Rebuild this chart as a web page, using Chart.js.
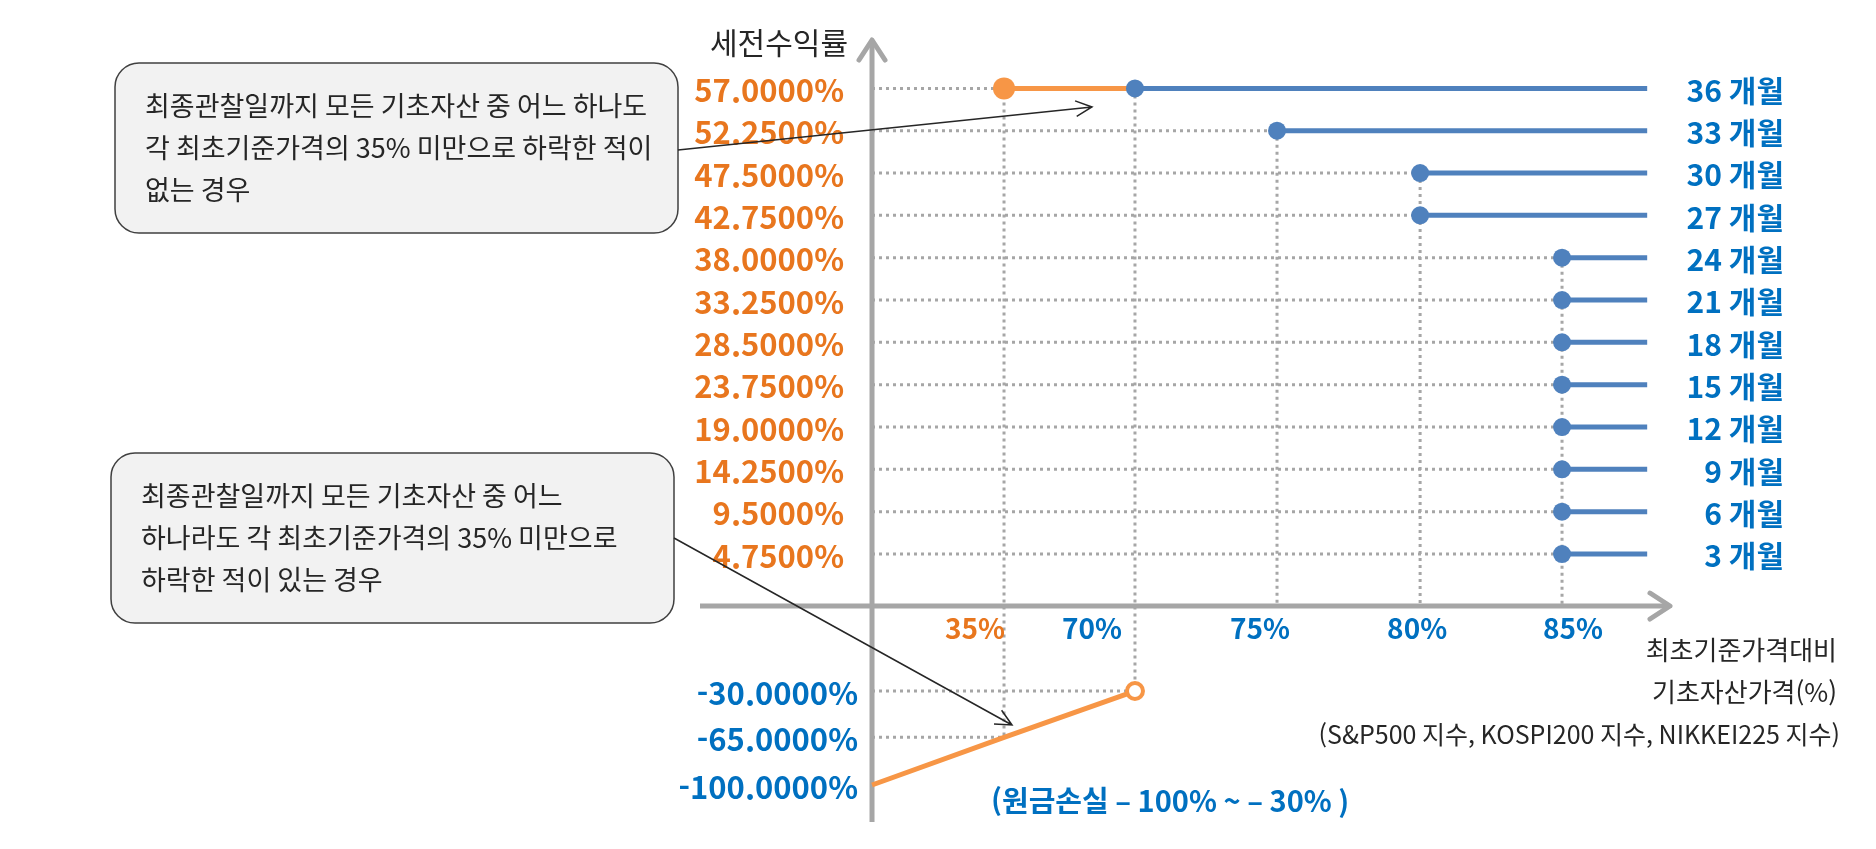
<!DOCTYPE html>
<html lang="ko">
<head>
<meta charset="utf-8">
<title>세전수익률 구조</title>
<script src="https://cdn.jsdelivr.net/npm/chart.js@4.4.1/dist/chart.umd.min.js"></script>
<style>
  html, body { margin: 0; padding: 0; background: #fff; }
</style>
</head>
<body>
<canvas id="payoffChart" width="1876" height="849"></canvas>
<script>
// 관찰 시점 (36개월이 만기)
const months = ['36 개월', '33 개월', '30 개월', '27 개월', '24 개월', '21 개월', '18 개월', '15 개월', '12 개월', '9 개월', '6 개월', '3 개월'];
// 세전수익률 (%)
const couponRates = [57, 52.25, 47.5, 42.75, 38, 33.25, 28.5, 23.75, 19, 14.25, 9.5, 4.75];
// 상환 조건 : 최초기준가격 대비 기초자산가격 (%)
const redemptionBarriers = [70, 75, 80, 80, 85, 85, 85, 85, 85, 85, 85, 85];
// 낙인 배리어 (%)
const kiBarrier = 35;
// 원금손실 구간
const lossPrices = [0, 35, 70];
const lossRates = [-100, -65, -30];
// 축 눈금
const xTickValues = [35, 70, 75, 80, 85];
const yTickValues = couponRates.concat(lossRates.slice().reverse());
// 수익 구간 선이 끝나는 가격
const priceEnd = 88;

const BLUE = '#4f81bd';
const ORANGE = '#f79646';
const TXT_BLUE = '#0070c0';
const TXT_ORANGE = '#e8761e';
const GREY = '#a6a6a6';
const INK = '#262626';
const FONT = '"Noto Sans CJK KR", "Noto Sans", sans-serif';

// 눈금 간격이 고르지 않은 그림이라 구간별로 선형 보간하는 축을 만든다
class StepScale extends Chart.Scale {
    static id = 'step';
    static defaults = {};

    parse(raw) {
        return raw === null || raw === undefined ? null : +raw;
    }
    _toSlot(v) {
        const vs = this.options.stopValues, ss = this.options.stopSlots;
        let i = 0;
        while (i < vs.length - 2 && v > vs[i + 1]) i++;
        return ss[i] + (v - vs[i]) * (ss[i + 1] - ss[i]) / (vs[i + 1] - vs[i]);
    }
    _toValue(s) {
        const vs = this.options.stopValues, ss = this.options.stopSlots;
        let i = 0;
        while (i < ss.length - 2 && s > ss[i + 1]) i++;
        return vs[i] + (s - ss[i]) * (vs[i + 1] - vs[i]) / (ss[i + 1] - ss[i]);
    }
    determineDataLimits() {
        const r = this.options.slotRange;
        this.min = this._toValue(r[0]);
        this.max = this._toValue(r[1]);
    }
    buildTicks() {
        return this.options.tickValues.map(v => ({ value: v }));
    }
    getLabelForValue(v) {
        return v + '%';
    }
    getPixelForValue(v) {
        const r = this.options.slotRange;
        return this.getPixelForDecimal((this._toSlot(v) - r[0]) / (r[1] - r[0]));
    }
    getPixelForTick(i) {
        return this.getPixelForValue(this.ticks[i].value);
    }
    getValueForPixel(p) {
        const r = this.options.slotRange;
        return this._toValue(r[0] + this.getDecimalForPixel(p) * (r[1] - r[0]));
    }
}
Chart.register(StepScale);

// ---------------------- //
// 데이터셋 만들기

const datasets = [];

// 조기상환 / 만기상환 구간
months.forEach((m, i) => {
    datasets.push({
        label: m,
        data: [{ x: redemptionBarriers[i], y: couponRates[i] }, { x: priceEnd, y: couponRates[i] }],
        borderColor: BLUE,
        backgroundColor: BLUE,
        borderWidth: 5,
        pointRadius: [9, 0],
        pointBackgroundColor: BLUE,
        pointBorderWidth: 0,
        order: 1
    });
});

// 만기: 낙인 배리어 아래로 내려간 적이 없는 경우
datasets.push({
    label: 'no knock-in',
    data: [{ x: kiBarrier, y: couponRates[0] }, { x: redemptionBarriers[0], y: couponRates[0] }],
    borderColor: ORANGE,
    borderWidth: 5,
    pointRadius: [11, 0],
    pointBackgroundColor: ORANGE,
    pointBorderWidth: 0,
    order: 2
});

// 만기: 원금손실
datasets.push({
    label: 'loss',
    data: lossPrices.map((p, i) => ({ x: p, y: lossRates[i] })),
    borderColor: ORANGE,
    borderWidth: 5,
    pointRadius: lossPrices.map((p, i) => i === lossPrices.length - 1 ? 8 : 0),
    pointBackgroundColor: '#fff',
    pointBorderColor: ORANGE,
    pointBorderWidth: 4,
    order: 2
});

// 점선 보조선
const guide = pts => ({
    data: pts,
    borderColor: GREY,
    borderWidth: 3,
    borderDash: [3, 4],
    pointRadius: 0,
    order: 3
});

// 각 행의 첫 점 (만기 행은 낙인 배리어에서 시작)
const rowStart = couponRates.map((r, i) => i === 0 ? kiBarrier : redemptionBarriers[i]);
couponRates.forEach((r, i) => {
    datasets.push(guide([{ x: 0, y: r }, { x: rowStart[i], y: r }]));
});
lossPrices.forEach((p, i) => {
    if (p > 0) datasets.push(guide([{ x: 0, y: lossRates[i] }, { x: p, y: lossRates[i] }]));
});

// 세로 보조선 : 점이 있는 가격마다 한 줄씩
const tops = {};
rowStart.forEach((p, i) => { tops[p] = Math.max(tops[p] ?? -Infinity, couponRates[i]); });
tops[redemptionBarriers[0]] = Math.max(tops[redemptionBarriers[0]] ?? -Infinity, couponRates[0]);
Object.keys(tops).forEach(k => {
    const p = +k;
    const li = lossPrices.indexOf(p);
    const bottom = li >= 0 ? lossRates[li] : 0;
    datasets.push(guide([{ x: p, y: tops[k] }, { x: p, y: bottom }]));
});

// ---------------------- //
// 축, 글자, 말풍선

function arrowLine(ctx, x1, y1, x2, y2) {
    const a = Math.atan2(y2 - y1, x2 - x1);
    const len = 18, spread = 0.45;
    ctx.beginPath();
    ctx.moveTo(x1, y1);
    ctx.lineTo(x2, y2);
    ctx.moveTo(x2 - len * Math.cos(a - spread), y2 - len * Math.sin(a - spread));
    ctx.lineTo(x2, y2);
    ctx.lineTo(x2 - len * Math.cos(a + spread), y2 - len * Math.sin(a + spread));
    ctx.stroke();
}

function callout(ctx, box, lines, from, to) {
    ctx.save();
    ctx.beginPath();
    ctx.roundRect(box.x, box.y, box.w, box.h, 24);
    ctx.fillStyle = '#f2f2f2';
    ctx.fill();
    ctx.lineWidth = 1.5;
    ctx.strokeStyle = '#404040';
    ctx.stroke();
    ctx.fillStyle = INK;
    ctx.font = '27px ' + FONT;
    ctx.textAlign = 'left';
    ctx.textBaseline = 'middle';
    const cy = box.y + box.h / 2;
    lines.forEach((t, i) => ctx.fillText(t, box.x + 30, cy + (i - 1) * 42));
    ctx.strokeStyle = INK;
    ctx.lineWidth = 1.5;
    arrowLine(ctx, from[0], from[1], to[0], to[1]);
    ctx.restore();
}

const decor = {
    id: 'decor',
    beforeDatasetsDraw(chart) {
        const { ctx, chartArea: a, scales: { x, y } } = chart;
        const x0 = x.getPixelForValue(0), y0 = y.getPixelForValue(0);
        ctx.save();
        ctx.strokeStyle = GREY;
        ctx.lineWidth = 5;
        ctx.beginPath();
        ctx.moveTo(a.left, y0);
        ctx.lineTo(a.right - 3, y0);
        ctx.moveTo(x0, a.bottom);
        ctx.lineTo(x0, a.top + 3);
        ctx.stroke();
        ctx.lineJoin = 'round';
        ctx.lineCap = 'round';
        ctx.beginPath();
        ctx.moveTo(a.right - 22, y0 - 13);
        ctx.lineTo(a.right - 2, y0);
        ctx.lineTo(a.right - 22, y0 + 13);
        ctx.moveTo(x0 - 13, a.top + 22);
        ctx.lineTo(x0, a.top + 2);
        ctx.lineTo(x0 + 13, a.top + 22);
        ctx.stroke();
        ctx.restore();
    },
    afterDatasetsDraw(chart) {
        const { ctx, scales: { x, y } } = chart;
        const x0 = x.getPixelForValue(0), y0 = y.getPixelForValue(0);
        ctx.save();
        ctx.textBaseline = 'middle';

        // y축 눈금
        ctx.font = 'bold 31px ' + FONT;
        ctx.textAlign = 'right';
        y.ticks.forEach(t => {
            const py = y.getPixelForValue(t.value);
            ctx.fillStyle = t.value > 0 ? TXT_ORANGE : TXT_BLUE;
            ctx.fillText(t.label, x0 - (t.value > 0 ? 28 : 14), py + 2);
        });

        // x축 눈금
        const labelShift = [-29, -43, -17, -3, 11];
        ctx.font = 'bold 28px ' + FONT;
        ctx.textAlign = 'center';
        x.ticks.forEach((t, i) => {
            ctx.fillStyle = t.value === kiBarrier ? TXT_ORANGE : TXT_BLUE;
            ctx.fillText(t.label, x.getPixelForValue(t.value) + labelShift[i], y0 + 22);
        });

        // 관찰 시점
        ctx.font = 'bold 30px ' + FONT;
        ctx.textAlign = 'right';
        ctx.fillStyle = TXT_BLUE;
        months.forEach((m, i) => {
            ctx.fillText(m, 1784, y.getPixelForValue(couponRates[i]) + 2);
        });

        // 축 제목
        ctx.fillStyle = INK;
        ctx.font = '30px ' + FONT;
        ctx.textAlign = 'right';
        ctx.fillText('세전수익률', x0 - 24, 43);
        ctx.font = '26px ' + FONT;
        ctx.fillText('최초기준가격대비', 1837, 650);
        ctx.fillText('기초자산가격(%)', 1837, 692);
        ctx.font = '25px ' + FONT;
        ctx.fillText('(S&P500 지수, KOSPI200 지수, NIKKEI225 지수)', 1840, 734);

        ctx.font = 'bold 29px ' + FONT;
        ctx.textAlign = 'left';
        ctx.fillStyle = TXT_BLUE;
        ctx.fillText('(원금손실 – 100% ~ – 30% )', 991, 801);
        ctx.restore();

        callout(ctx, { x: 115, y: 63, w: 563, h: 170 },
            ['최종관찰일까지 모든 기초자산 중 어느 하나도', '각 최초기준가격의 35% 미만으로 하락한 적이', '없는 경우'],
            [678, 150], [1092, 107]);
        callout(ctx, { x: 111, y: 453, w: 563, h: 170 },
            ['최종관찰일까지 모든 기초자산 중 어느', '하나라도 각 최초기준가격의 35% 미만으로', '하락한 적이 있는 경우'],
            [674, 538], [1012, 725]);
    }
};

new Chart(document.getElementById('payoffChart'), {
    type: 'line',
    data: { datasets: datasets },
    options: {
        responsive: false,
        animation: false,
        events: [],
        layout: {
            padding: { left: 700, right: 204, top: 38, bottom: 27 }
        },
        plugins: {
            legend: { display: false },
            tooltip: { enabled: false }
        },
        scales: {
            x: {
                type: 'step',
                display: false,
                stopValues: [0, 35, 70, 75, 80, 85],
                stopSlots: [0, 1, 1.992, 3.068, 4.152, 5.227],
                slotRange: [-1.303, 6.06],
                tickValues: xTickValues,
                ticks: { autoSkip: false, callback: v => v + '%' }
            },
            y: {
                type: 'step',
                display: false,
                stopValues: [-100, -65, -30, 0, 4.75, 57],
                stopSlots: [-4.456, -3.33, -2.236, -0.228, 1, 12],
                slotRange: [-5.33, 13.19],
                tickValues: yTickValues,
                ticks: { autoSkip: false, callback: v => v.toFixed(4) + '%' }
            }
        }
    },
    plugins: [decor]
});
</script>
</body>
</html>
